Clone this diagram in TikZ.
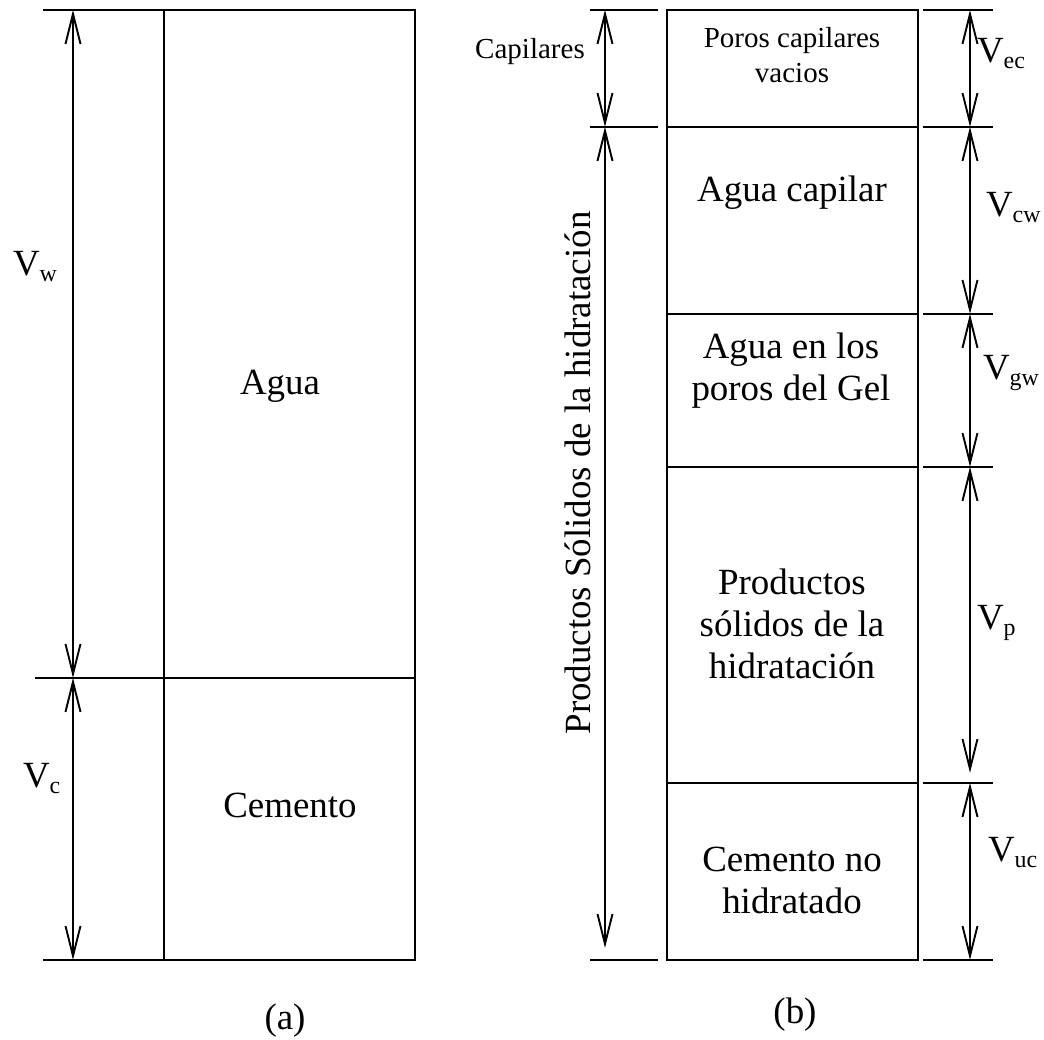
\documentclass[tikz,border=0pt]{standalone}
\usepackage{fontspec}
\setmainfont{Liberation Serif}
\usetikzlibrary{arrows.meta}
\newcommand{\volu}[1]{V\raisebox{-1.6pt}{\fontsize{6.8pt}{8pt}\selectfont #1}}

\begin{document}
\begin{tikzpicture}[x=0.01cm,y=-0.01cm,line width=0.6pt,
  >={Straight Barb[length=3mm,width=1.5mm]},
  dim/.style={<->,line width=0.55pt},
  phase/.style={font=\fontsize{10.5pt}{11.95pt}\selectfont,align=center},
  small/.style={font=\fontsize{8.25pt}{9.96pt}\selectfont,align=center},
  vlabel/.style={phase,anchor=base west},
  every node/.style={inner sep=0pt}]
  \useasboundingbox (0,0) rectangle (1044,1040);
  % (a) agua y cemento
  \draw (164,10) rectangle (415,960);
  \draw (43,10) -- (164,10);
  \draw (35,678) -- (415,678);
  \draw (43,960) -- (164,960);
  \coordinate (aw) at (73,10);
  \coordinate (am) at (73,678);
  \coordinate (ab) at (73,960);
  \draw[dim] (aw) -- (am);
  \draw[dim] (am) -- (ab);
  \node[vlabel] (vw) at (12,276) {\volu{w}};
  \node[vlabel] (vc) at (22,788) {\volu{c}};
  \node[phase] (agua) at (280,386) {Agua};
  \node[phase] (cemento) at (290,805) {Cemento};
  \node[phase] (capa) at (285,1021) {(a)};
  % (b) pasta hidratada
  \draw (667,10) rectangle (918,960);
  \foreach \lev in {127,314,467,783}
    \draw (667,\lev) -- (918,\lev);
  \foreach \lev in {10,127,960}
    \draw (590,\lev) -- (658,\lev);
  \foreach \lev [count=\i] in {10,127,314,467,783,960}{
    \draw (923,\lev) -- (993,\lev);
    \coordinate (r\i) at (970,\lev);
  }
  \coordinate (l1) at (605,10);
  \coordinate (l2) at (605,127);
  \coordinate (lend) at (605,948);
  \coordinate (pend) at (970,773);
  \draw[dim] (l1) -- (l2);
  \draw[dim] (l2) -- (lend);
  \draw[dim] (r1) -- (r2);
  \draw[dim] (r2) -- (r3);
  \draw[dim] (r3) -- (r4);
  \draw[dim] (r4) -- (pend);
  \draw[dim] (r5) -- (r6);
  \node[small] (capil) at (530,52) {Capilares};
  \node[phase,rotate=90] (solidos) at (578,473) {Productos Sólidos de la hidratación};
  \node[small] (poros) at (792,55) {Poros capilares\\vacios};
  \node[phase] (aguacap) at (792,193) {Agua capilar};
  \node[phase] (aguagel) at (791,371) {Agua en los\\poros del Gel};
  \node[phase] (prod) at (792,624) {Productos\\sólidos de la\\hidratación};
  \node[phase] (cemnh) at (792,880) {Cemento no\\hidratado};
  \node[vlabel] (vec) at (976,63) {\volu{ec}};
  \node[vlabel] (vcw) at (985,217) {\volu{cw}};
  \node[vlabel] (vgw) at (982,380) {\volu{gw}};
  \node[vlabel] (vp) at (976,630) {\volu{p}};
  \node[vlabel] (vuc) at (987,862) {\volu{uc}};
  \node[phase] (capb) at (795,1015) {(b)};
\end{tikzpicture}
\end{document}
